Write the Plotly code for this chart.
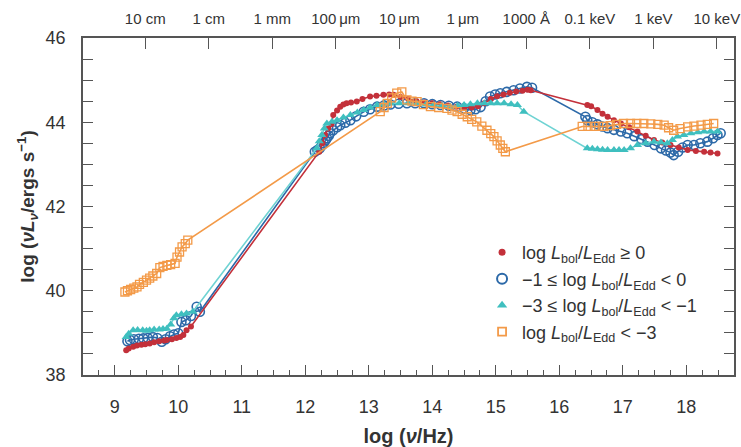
import plotly.graph_objects as go

# ---------------- data ----------------
red_x = [9.18, 9.22, 9.29, 9.35, 9.42, 9.48, 9.55, 9.62, 9.70, 9.78, 9.82, 9.90, 9.97, 10.03, 10.08, 10.13, 10.20,
         12.22, 12.27, 12.31, 12.36, 12.41, 12.44, 12.50, 12.55, 12.60, 12.65, 12.72, 12.81, 12.90, 13.02, 13.12,
         13.23, 13.32, 13.39, 13.50, 13.62, 13.75, 13.88, 14.00, 14.12, 14.25, 14.38, 14.50, 14.62, 14.72, 14.82,
         14.92, 15.02, 15.12, 15.22, 15.32, 15.42, 15.50, 15.55,
         16.44, 16.50, 16.60, 16.68, 16.76, 16.86, 16.97, 17.10, 17.23, 17.36, 17.49, 17.62, 17.75, 17.88, 18.02,
         18.15, 18.28, 18.38, 18.49]
red_y = [38.59, 38.63, 38.67, 38.70, 38.72, 38.73, 38.75, 38.78, 38.80, 38.82, 38.83, 38.85, 38.88, 38.90, 38.95, 39.06, 39.15,
         43.30, 43.50, 43.70, 43.85, 43.95, 44.17, 44.28, 44.37, 44.42, 44.45, 44.47, 44.49, 44.55, 44.61, 44.63,
         44.65, 44.66, 44.65, 44.60, 44.55, 44.50, 44.47, 44.45, 44.43, 44.40, 44.37, 44.35, 44.35, 44.38, 44.45,
         44.55, 44.62, 44.66, 44.70, 44.73, 44.75, 44.77, 44.76,
         44.41, 44.38, 44.29, 44.20, 44.13, 44.05, 43.97, 43.88, 43.78, 43.68, 43.58, 43.52, 43.46, 43.40, 43.34,
         43.32, 43.30, 43.28, 43.26]

blue_x = [9.20, 9.24, 9.30, 9.38, 9.45, 9.52, 9.60, 9.67, 9.74, 9.80, 9.87, 9.93, 10.00, 10.05, 10.12, 10.20, 10.29, 10.34,
          12.15, 12.19, 12.23, 12.26, 12.29, 12.32, 12.34, 12.37, 12.39, 12.44, 12.50, 12.55, 12.63, 12.71, 12.80,
          12.92, 13.02, 13.13, 13.24, 13.34, 13.47, 13.60, 13.73, 13.87, 14.00, 14.13, 14.26, 14.39, 14.50, 14.60,
          14.68, 14.76, 14.84, 14.91, 14.99, 15.07, 15.17, 15.28, 15.38, 15.49, 15.57,
          16.41, 16.44, 16.52, 16.60, 16.68, 16.76, 16.86, 16.97, 17.07, 17.18, 17.29, 17.39, 17.50, 17.60, 17.68,
          17.75, 17.80, 17.87, 17.94, 18.02, 18.12, 18.22, 18.33, 18.42, 18.49, 18.54]
blue_y = [38.80, 38.83, 38.85, 38.86, 38.87, 38.88, 38.90, 38.88, 38.79, 38.85, 38.92, 38.96, 38.99, 39.26, 39.30, 39.40, 39.62, 39.50,
          43.30, 43.34, 43.38, 43.45, 43.50, 43.57, 43.62, 43.68, 43.74, 43.81, 43.88, 43.93, 43.99, 44.05, 44.14,
          44.25, 44.31, 44.37, 44.40, 44.42, 44.44, 44.45, 44.45, 44.45, 44.43, 44.41, 44.39, 44.37, 44.33, 44.29,
          44.31, 44.36, 44.50, 44.61, 44.66, 44.69, 44.72, 44.76, 44.80, 44.84, 44.82,
          44.13, 44.05, 44.00, 43.95, 43.90, 43.86, 43.82, 43.78, 43.74, 43.67, 43.60, 43.54, 43.46, 43.38, 43.33,
          43.28, 43.22, 43.30, 43.40, 43.46, 43.46, 43.50, 43.54, 43.62, 43.70, 43.74]

teal_x = [9.18, 9.22, 9.29, 9.36, 9.44, 9.50, 9.55, 9.62, 9.70, 9.76, 9.82, 9.88, 9.93, 9.97, 10.05, 10.13, 10.23,
          12.18, 12.22, 12.26, 12.30, 12.34, 12.42, 12.50, 12.60, 12.71, 12.82, 12.92, 13.02, 13.13, 13.24, 13.34,
          13.48, 13.62, 13.76, 13.90, 14.02, 14.15, 14.28, 14.40, 14.50, 14.60, 14.71, 14.82, 14.92, 15.02, 15.13,
          15.24, 15.34, 15.44,
          16.44, 16.52, 16.60, 16.68, 16.76, 16.86, 16.94, 17.02, 17.12, 17.23, 17.36, 17.49, 17.60, 17.70, 17.78,
          17.86, 17.96, 18.07, 18.18, 18.28, 18.38, 18.49]
teal_y = [38.90, 38.98, 39.06, 39.07, 39.06, 39.05, 39.06, 39.08, 39.08, 39.09, 39.10, 39.20, 39.35, 39.42, 39.44, 39.46, 39.50,
          43.38, 43.55, 43.70, 43.85, 43.97, 44.01, 44.05, 44.11, 44.17, 44.23, 44.29, 44.35, 44.41, 44.43, 44.45,
          44.45, 44.45, 44.44, 44.42, 44.41, 44.39, 44.37, 44.39, 44.41, 44.43, 44.45, 44.45, 44.45, 44.45, 44.45,
          44.43, 44.41, 44.25,
          43.38, 43.37, 43.36, 43.35, 43.34, 43.34, 43.34, 43.34, 43.38, 43.46, 43.50, 43.54, 43.52, 43.50, 43.58,
          43.66, 43.70, 43.74, 43.76, 43.78, 43.78, 43.78]

orange_x = [9.16, 9.20, 9.25, 9.30, 9.35, 9.39, 9.45, 9.50, 9.55, 9.60, 9.66, 9.71, 9.76, 9.82, 9.88, 9.95, 9.98,
            10.02, 10.06, 10.11, 10.15,
            13.18, 13.24, 13.29, 13.36, 13.44, 13.52, 13.60, 13.68, 13.76, 13.86, 13.97, 14.10, 14.23, 14.31, 14.39,
            14.47, 14.55, 14.62, 14.70, 14.78, 14.86, 14.92, 14.97, 15.02, 15.07, 15.11, 15.15,
            16.36, 16.45, 16.55, 16.62, 16.70, 16.80, 16.90, 17.01, 17.12, 17.22, 17.33, 17.44, 17.55, 17.65, 17.72,
            17.80, 17.90, 18.02, 18.12, 18.23, 18.33, 18.43]
orange_y = [39.97, 40.00, 40.03, 40.06, 40.09, 40.15, 40.20, 40.25, 40.30, 40.35, 40.41, 40.55, 40.58, 40.60, 40.62, 40.65, 40.80,
            40.92, 41.04, 41.12, 41.20,
            44.25, 44.35, 44.45, 44.58, 44.69, 44.72, 44.53, 44.50, 44.49, 44.42, 44.37, 44.35, 44.33, 44.29, 44.25,
            44.19, 44.13, 44.07, 44.01, 43.91, 43.81, 43.73, 43.66, 43.56, 43.46, 43.38, 43.30,
            43.90, 43.90, 43.90, 43.90, 43.90, 43.92, 43.95, 43.97, 43.97, 43.97, 43.97, 43.96, 43.95, 43.93, 43.87,
            43.81, 43.85, 43.89, 43.91, 43.93, 43.95, 43.97]

top_tick_pos = [9.48, 10.48, 11.48, 12.48, 13.48, 14.48, 15.48, 16.48, 17.48, 18.48]
top_tick_text = ["10 cm", "1 cm", "1 mm", "100\u2009\u03bcm", "10\u2009\u03bcm", "1\u2009\u03bcm",
                 "1000 \u00c5", "0.1 keV", "1 keV", "10 keV"]

legend_names = ["log <i>L</i><sub>bol</sub>/<i>L</i><sub>Edd</sub> \u2265 0",
                "\u22121 \u2264 log <i>L</i><sub>bol</sub>/<i>L</i><sub>Edd</sub> < 0",
                "\u22123 \u2264 log <i>L</i><sub>bol</sub>/<i>L</i><sub>Edd</sub> < \u22121",
                "log <i>L</i><sub>bol</sub>/<i>L</i><sub>Edd</sub> < \u22123"]

RED = "#c3303a"
BLUE = "#2c69a8"
TEAL = "#3fbfbf"
TEAL_LINE = "#6fd3d3"
ORANGE = "#f39a48"
AXC = "#555555"
TXT = "#333333"
FONT = "Liberation Sans, Arial, sans-serif"

fig = go.Figure()

series = [
    (blue_x, blue_y, BLUE, dict(symbol="circle-open", size=9, color=BLUE, line=dict(width=1.6, color=BLUE))),
    (red_x, red_y, RED, dict(symbol="circle", size=6, color=RED)),
    (teal_x, teal_y, TEAL_LINE, dict(symbol="triangle-up", size=8, color=TEAL)),
    (orange_x, orange_y, ORANGE, dict(symbol="square-open", size=8, color=ORANGE, line=dict(width=1.3, color=ORANGE))),
]
for xs, ys, lc, mk in series:
    fig.add_trace(go.Scatter(x=xs, y=ys, mode="lines+markers", line=dict(color=lc, width=1.6),
                             marker=mk, showlegend=False, hoverinfo="skip"))

# legend-only entries (markers only, as in the reference)
leg_markers = [
    dict(symbol="circle", size=7, color=RED),
    dict(symbol="circle-open", size=10, color=BLUE, line=dict(width=2, color=BLUE)),
    dict(symbol="triangle-up", size=9, color=TEAL),
    dict(symbol="square-open", size=8, color=ORANGE, line=dict(width=1.8, color=ORANGE)),
]
for name, mk in zip(legend_names, leg_markers):
    fig.add_trace(go.Scatter(x=[None], y=[None], mode="markers", marker=mk, name=name, showlegend=True))

# dummy trace to bind the top axis
fig.add_trace(go.Scatter(x=[None], y=[None], xaxis="x2", showlegend=False, hoverinfo="skip"))

fig.update_layout(
    width=741, height=447,
    margin=dict(l=83, r=7, t=38, b=72),
    paper_bgcolor="white", plot_bgcolor="white",
    font=dict(family=FONT, color=TXT, size=16),
    showlegend=True,
    legend=dict(x=0.613, y=0.418, xanchor="left", yanchor="top", bgcolor="rgba(0,0,0,0)",
                font=dict(size=18, color=TXT), tracegroupgap=0, itemwidth=30),
    xaxis=dict(range=[8.5, 18.75], tickmode="linear", tick0=9, dtick=1, automargin=False,
               ticks="inside", ticklen=10, tickwidth=1.3, tickcolor=AXC,
               minor=dict(ticks="inside", ticklen=5, tickwidth=1.1, tickcolor=AXC, dtick=0.25, tick0=9),
               showline=True, linecolor=AXC, linewidth=1.5, mirror=False,
               showgrid=False, zeroline=False,
               tickfont=dict(size=18, color=TXT), ticklabelstandoff=15,
               title=dict(text="<b>log (<i>\u03bd</i>/Hz)</b>", font=dict(size=20, color=TXT), standoff=14)),
    xaxis2=dict(overlaying="x", side="top", range=[8.5, 18.75], automargin=False,
                tickmode="array", tickvals=top_tick_pos, ticktext=top_tick_text,
                ticks="inside", ticklen=11, tickwidth=1.3, tickcolor=AXC,
                showline=True, linecolor=AXC, linewidth=1.5,
                showgrid=False, zeroline=False,
                tickfont=dict(size=15, color=TXT), ticklabelstandoff=6),
    yaxis=dict(range=[38, 46], tickmode="linear", tick0=38, dtick=2, automargin=False,
               ticks="inside", ticklen=10, tickwidth=1.3, tickcolor=AXC,
               minor=dict(ticks="inside", ticklen=5, tickwidth=1.1, tickcolor=AXC, dtick=0.5),
               showline=True, linecolor=AXC, linewidth=1.5, mirror="allticks",
               showgrid=False, zeroline=False,
               tickfont=dict(size=18, color=TXT), ticklabelstandoff=12,
               title=dict(text="<b>log (<i>\u03bdL<sub>\u03bd</sub></i>/ergs s<sup>\u22121</sup>)</b>",
                          font=dict(size=19, color=TXT), standoff=6)),
)

fig.write_html("out.html")
